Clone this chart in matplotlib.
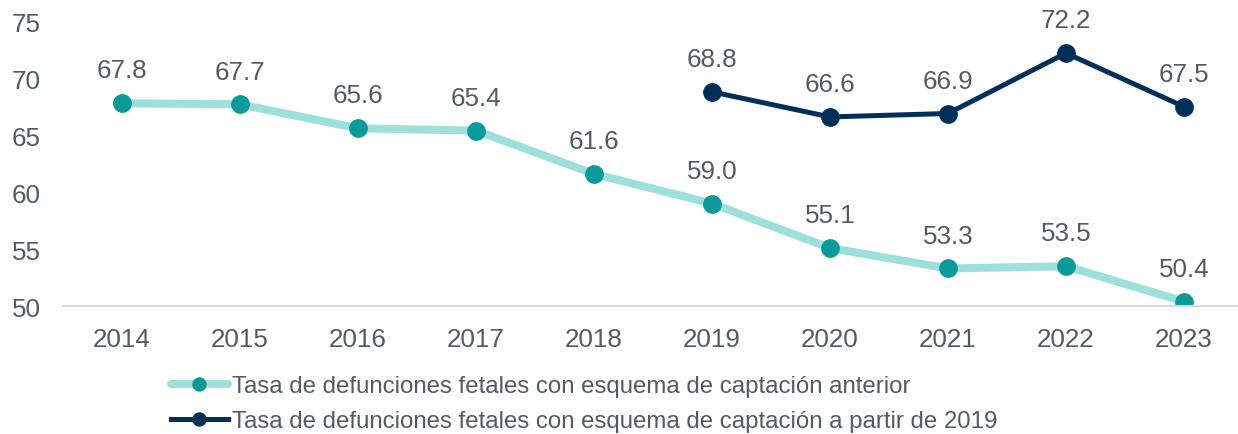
import matplotlib.pyplot as plt

years = ['2014', '2015', '2016', '2017', '2018', '2019', '2020', '2021', '2022', '2023']
tasa_anterior = [67.8, 67.7, 65.6, 65.4, 61.6, 59.0, 55.1, 53.3, 53.5, 50.4]
years_nuevo = ['2019', '2020', '2021', '2022', '2023']
tasa_nuevo = [68.8, 66.6, 66.9, 72.2, 67.5]

label_anterior = 'Tasa de defunciones fetales con esquema de captación anterior'
label_nuevo = 'Tasa de defunciones fetales con esquema de captación a partir de 2019'

text_color = '#515b66'
plt.rcParams['font.family'] = ['Liberation Sans', 'DejaVu Sans']

fig = plt.figure(figsize=(12.38, 4.35), dpi=100)
ax = fig.add_axes([0.051, 0.294, 0.953, 0.655])

x_all = list(range(len(years)))
x_nuevo = [years.index(y) for y in years_nuevo]

ax.plot(x_all, tasa_anterior, color='#9ddfdb', linewidth=5.8, marker='o',
        markersize=12.5, markerfacecolor='#0a9a9a', markeredgecolor='#0a9a9a',
        label=label_anterior, solid_capstyle='round', zorder=2)
ax.plot(x_nuevo, tasa_nuevo, color='#00305a', linewidth=3.6, marker='o',
        markersize=12.5, markerfacecolor='#00305a', markeredgecolor='#00305a',
        label=label_nuevo, zorder=3)

for xi, v in zip(x_all, tasa_anterior):
    ax.annotate(f'{v:.1f}', (xi, v), xytext=(0, 15), textcoords='offset points',
                ha='center', va='bottom', fontsize=18.7, color=text_color)
for xi, v in zip(x_nuevo, tasa_nuevo):
    ax.annotate(f'{v:.1f}', (xi, v), xytext=(0, 15), textcoords='offset points',
                ha='center', va='bottom', fontsize=18.7, color=text_color)

ax.set_xlim(-0.5, len(years) - 0.5)
ax.set_ylim(50, 75)
ax.set_yticks([50, 55, 60, 65, 70, 75])
ax.set_xticks(x_all)
ax.set_xticklabels(years)

for s in ['top', 'right', 'left']:
    ax.spines[s].set_visible(False)
ax.spines['bottom'].set_color('#d9d9d9')
ax.spines['bottom'].set_linewidth(1.5)
ax.tick_params(axis='both', length=0, labelsize=18.7, labelcolor=text_color)
ax.tick_params(axis='x', pad=15)
ax.tick_params(axis='y', pad=16)

leg = fig.legend(loc='lower left', bbox_to_anchor=(0.13, -0.018), frameon=False,
                 fontsize=17.3, labelcolor=text_color, handlelength=2.4,
                 handletextpad=0.15, labelspacing=0.55, borderaxespad=0,
                 markerscale=0.75)

fig.savefig('out.png', dpi=100)
